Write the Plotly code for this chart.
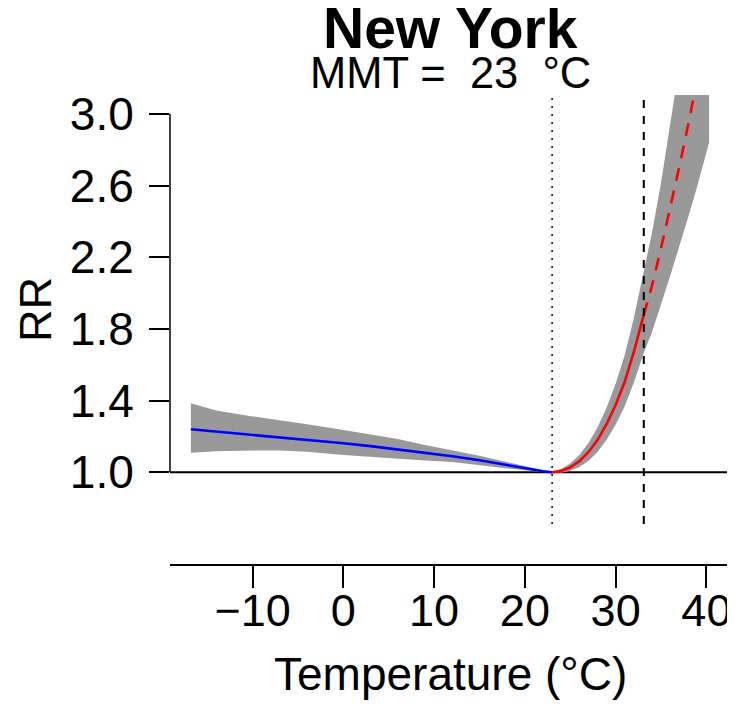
import plotly.graph_objects as go

# ---- data ----
city = "New York"
mmt = 23
p99 = 33.1

cold_temp = [-16.8, -14, -10, -7, -4, 0, 3, 6, 9, 12, 15, 18, 20, 22, 23]
cold_rr = [1.240, 1.227, 1.210, 1.197, 1.183, 1.162, 1.146, 1.128, 1.108, 1.090, 1.067, 1.040, 1.022, 1.006, 1.000]
cold_up = [1.385, 1.345, 1.312, 1.292, 1.268, 1.236, 1.213, 1.186, 1.152, 1.122, 1.093, 1.058, 1.034, 1.010, 1.000]
cold_lo = [1.109, 1.117, 1.121, 1.122, 1.115, 1.097, 1.088, 1.075, 1.066, 1.057, 1.042, 1.023, 1.011, 1.002, 1.000]

hot_temp = [23, 24, 25, 26, 27, 28, 29, 30, 31, 32, 33, 33.1, 34, 35, 36, 37, 38, 39, 40, 40.3]
hot_rr = [1.000, 1.008, 1.028, 1.062, 1.112, 1.180, 1.268, 1.375, 1.505, 1.670, 1.860, 1.878, 2.040, 2.250, 2.470, 2.700, 2.940, 3.190, 3.450, 3.530]
hot_up = [1.000, 1.018, 1.049, 1.097, 1.163, 1.250, 1.360, 1.494, 1.655, 1.860, 2.097, 2.120, 2.335, 2.614, 2.913, 3.232, 3.566, 3.916, 4.277, 4.390]
hot_lo = [1.000, 0.998, 1.008, 1.029, 1.063, 1.113, 1.182, 1.265, 1.369, 1.499, 1.650, 1.665, 1.782, 1.937, 2.094, 2.256, 2.425, 2.598, 2.783, 2.840]

x_ticks = [-10, 0, 10, 20, 30, 40]
y_ticks = [1.0, 1.4, 1.8, 2.2, 2.6, 3.0]

# ---- figure ----
FONT = "Liberation Sans, Arial, Helvetica, sans-serif"
OFF = 8                      # page body margin in the browser
W, H = 735 - OFF, 705 - OFF
ML, MR, MT = 170 - OFF, 5, 95 - OFF
MB = H - (565 - OFF)
plot_w = W - ML - MR
plot_h = H - MT - MB
ydom_bottom = (565 - 524) / plot_h

def py(pix):
    """screen pixel (reference) -> paper y"""
    return (H - MB - (pix - OFF)) / plot_h

def px(pix):
    return ((pix - OFF) - ML) / plot_w

fig = go.Figure()

band_x = cold_temp + hot_temp[1:]
band_up = cold_up + hot_up[1:]
band_lo = cold_lo + hot_lo[1:]
fig.add_trace(go.Scatter(
    x=band_x + band_x[::-1], y=band_up + band_lo[::-1],
    fill="toself", fillcolor="#999999", line=dict(width=0),
    mode="lines", hoverinfo="skip", showlegend=False))

solid_t = [t for t in hot_temp if t <= p99]
solid_r = [r for t, r in zip(hot_temp, hot_rr) if t <= p99]
dash_t = [t for t in hot_temp if t >= p99]
dash_r = [r for t, r in zip(hot_temp, hot_rr) if t >= p99]

fig.add_trace(go.Scatter(x=cold_temp, y=cold_rr, mode="lines",
                         line=dict(color="#0000FF", width=2.6), showlegend=False))
fig.add_trace(go.Scatter(x=solid_t, y=solid_r, mode="lines",
                         line=dict(color="#FF0000", width=2.6), showlegend=False))
fig.add_trace(go.Scatter(x=dash_t, y=dash_r, mode="lines",
                         line=dict(color="#FF0000", width=2.6, dash="13px,10px"),
                         showlegend=False))

shapes = [
    dict(type="line", xref="paper", yref="y", x0=0, x1=1, y0=1, y1=1,
         line=dict(color="black", width=2), layer="below"),
    dict(type="line", xref="x", yref="y domain", x0=mmt, x1=mmt, y0=0, y1=1,
         line=dict(color="black", width=1.5, dash="2px,6px")),
    dict(type="line", xref="x", yref="y domain", x0=p99, x1=p99, y0=0, y1=1,
         line=dict(color="black", width=2, dash="8px,8px")),
    dict(type="line", xref="paper", yref="y", x0=0, x1=0, y0=y_ticks[0], y1=y_ticks[-1],
         line=dict(color="black", width=1.5)),
]

annotations = [
    dict(text="<b>" + city + "</b>", xref="paper", yref="paper", x=0.5, y=py(28),
         xanchor="center", yanchor="middle", showarrow=False,
         font=dict(family=FONT, size=57, color="black")),
    dict(text="MMT =\u00a0\u00a0" + str(mmt) + "\u00a0\u00a0°C", xref="paper", yref="paper",
         x=0.5, y=py(73), xanchor="center", yanchor="middle", showarrow=False,
         font=dict(family=FONT, size=43.5, color="black")),
    dict(text="RR", xref="paper", yref="paper", x=px(35), y=py(310),
         xanchor="center", yanchor="middle", textangle=-90, showarrow=False,
         font=dict(family=FONT, size=45, color="black")),
    dict(text="Temperature (°C)", xref="paper", yref="paper", x=0.5, y=py(674),
         xanchor="center", yanchor="middle", showarrow=False,
         font=dict(family=FONT, size=46, color="black")),
]

fig.update_layout(
    width=W, height=H,
    margin=dict(l=ML, r=MR, t=MT, b=MB, pad=0, autoexpand=False),
    paper_bgcolor="white", plot_bgcolor="white",
    font=dict(family=FONT, size=46, color="black"),
    shapes=shapes, annotations=annotations,
    xaxis=dict(range=[-19.1, 42.6], tickvals=x_ticks, ticks="outside", ticklen=22,
               tickwidth=1.5, tickcolor="black", showline=True, linecolor="black",
               linewidth=1.5, showgrid=False, zeroline=False, anchor="free", position=0,
               ticklabelstandoff=-16, ticklabeloverflow="allow",
               tickfont=dict(size=45), automargin=False),
    yaxis=dict(range=[0.7116, 3.105], domain=[ydom_bottom, 1], tickvals=y_ticks,
               tickformat=".1f", ticks="outside", ticklen=20, tickwidth=1.5,
               tickcolor="black", showline=False, showgrid=False, zeroline=False,
               ticklabelstandoff=6, tickfont=dict(size=46), automargin=False),
)

# keep the page free of scrollbars so nothing is pushed out of the window
fig.write_html("out.html", post_script="document.body.style.overflow='hidden';")
